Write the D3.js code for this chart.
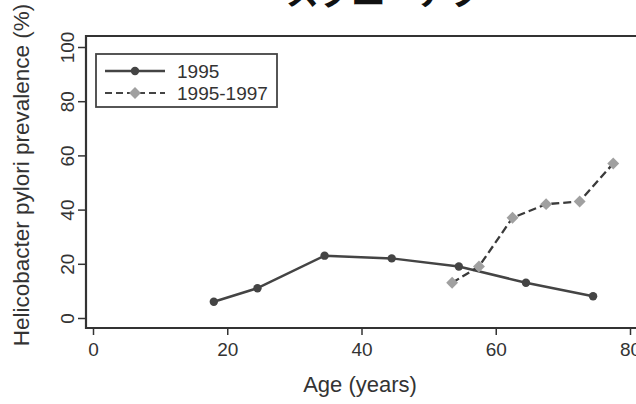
<!DOCTYPE html>
<html>
<head>
<meta charset="utf-8">
<script src="https://cdn.jsdelivr.net/npm/d3@7"></script>
<style>
  body { margin: 0; background: #fff; }
  svg { display: block; }
  text { font-family: "Liberation Sans", Arial, sans-serif; fill: #333; }
</style>
</head>
<body>
<svg id="canvas" width="636" height="404"></svg>
<script>
// data
let ages1995 = [18, 24.5, 34.5, 44.5, 54.5, 64.5, 74.5];
let prev1995 = [6, 11, 23, 22, 19, 13, 8];
let ages9597 = [53.5, 57.5, 62.5, 67.5, 72.5, 77.5];
let prev9597 = [13, 19, 37, 42, 43, 57];
let xTicks = [0, 20, 40, 60, 80];
let yTicks = [0, 20, 40, 60, 80, 100];
let seriesNames = ["1995", "1995-1997"];
let titleText = "スクエーアプ";

let canvas = d3.select("#canvas");
let frame = { left: 86, top: 36, bottom: 328, right: 660 };

let xScale = d3.scaleLinear().domain([0, 80]).range([93, 630]);
let yScale = d3.scaleLinear().domain([0, 100]).range([318, 47]);

// cropped title at the very top
canvas.append("text")
  .attr("x", 384).attr("y", 5)
  .attr("text-anchor", "middle")
  .style("font-family", "'Noto Sans CJK JP', sans-serif")
  .style("font-size", "33px")
  .style("font-weight", "bold")
  .style("fill", "#111")
  .text(titleText);

// frame
canvas.append("path")
  .attr("d", `M${frame.right},${frame.top}H${frame.left}V${frame.bottom}H${frame.right}`)
  .attr("fill", "none")
  .attr("stroke", "#333")
  .attr("stroke-width", 2.2);

// axes
let xAxis = d3.axisBottom(xScale).tickValues(xTicks).tickSize(7).tickPadding(8);
let gx = canvas.append("g").attr("transform", `translate(0,${frame.bottom})`).call(xAxis);
gx.select(".domain").remove();
gx.selectAll("line").attr("stroke", "#333").attr("stroke-width", 1.5);
gx.selectAll("text").style("font-size", "19px").attr("fill", "#444");

let yAxis = d3.axisLeft(yScale).tickValues(yTicks).tickSize(8).tickPadding(0);
let gy = canvas.append("g").attr("transform", `translate(${frame.left},0)`).call(yAxis);
gy.select(".domain").remove();
gy.selectAll("line").attr("stroke", "#333").attr("stroke-width", 1.5);
gy.selectAll("text")
  .style("font-size", "19px").attr("fill", "#444")
  .attr("text-anchor", "middle")
  .attr("x", 0).attr("dy", 0)
  .attr("transform", "translate(-19,0) rotate(-90)")
  .attr("y", 0)
  .attr("dominant-baseline", "central");

// axis titles
canvas.append("text")
  .attr("x", 360).attr("y", 392)
  .attr("text-anchor", "middle")
  .style("font-size", "22px")
  .text("Age (years)");

canvas.append("text")
  .attr("transform", "translate(29,175) rotate(-90)")
  .attr("text-anchor", "middle")
  .style("font-size", "22.5px")
  .text("Helicobacter pylori prevalence (%)");

// series 1995
let line = d3.line().x(d => xScale(d[0])).y(d => yScale(d[1]));
let pts1995 = ages1995.map((a, i) => [a, prev1995[i]]);
let pts9597 = ages9597.map((a, i) => [a, prev9597[i]]);

canvas.append("path").datum(pts1995)
  .attr("d", line).attr("fill", "none")
  .attr("stroke", "#444").attr("stroke-width", 2.5);
canvas.selectAll(".dot").data(pts1995).enter().append("circle")
  .attr("class", "dot")
  .attr("cx", d => xScale(d[0])).attr("cy", d => yScale(d[1]))
  .attr("r", 4.2).attr("fill", "#444");

// series 1995-1997
let diamond = d3.symbol().type(d3.symbolDiamond2).size(90);
canvas.append("path").datum(pts9597)
  .attr("d", line).attr("fill", "none")
  .attr("stroke", "#3a3a3a").attr("stroke-width", 2.3)
  .attr("stroke-dasharray", "8,4");
canvas.selectAll(".dia").data(pts9597).enter().append("path")
  .attr("class", "dia")
  .attr("d", diamond)
  .attr("transform", d => `translate(${xScale(d[0])},${yScale(d[1])})`)
  .attr("fill", "#a0a0a0");

// legend
let legend = canvas.append("g");
legend.append("rect")
  .attr("x", 96).attr("y", 54).attr("width", 181).attr("height", 53)
  .attr("fill", "#fff").attr("stroke", "#444").attr("stroke-width", 1.8);
let legendY = d3.scalePoint().domain(seriesNames).range([71, 93]);
seriesNames.forEach((name, i) => {
  let yy = legendY(name);
  legend.append("line")
    .attr("x1", 105).attr("x2", 165).attr("y1", yy).attr("y2", yy)
    .attr("stroke", "#444").attr("stroke-width", i === 0 ? 2.5 : 2.2)
    .attr("stroke-dasharray", i === 0 ? null : "7,4");
  if (i === 0) {
    legend.append("circle").attr("cx", 135).attr("cy", yy).attr("r", 4.2).attr("fill", "#444");
  } else {
    legend.append("path").attr("d", diamond)
      .attr("transform", `translate(135,${yy})`).attr("fill", "#a0a0a0");
  }
  legend.append("text")
    .attr("x", 177).attr("y", yy).attr("dy", "0.35em")
    .style("font-size", "19px")
    .text(name);
});
</script>
</body>
</html>
